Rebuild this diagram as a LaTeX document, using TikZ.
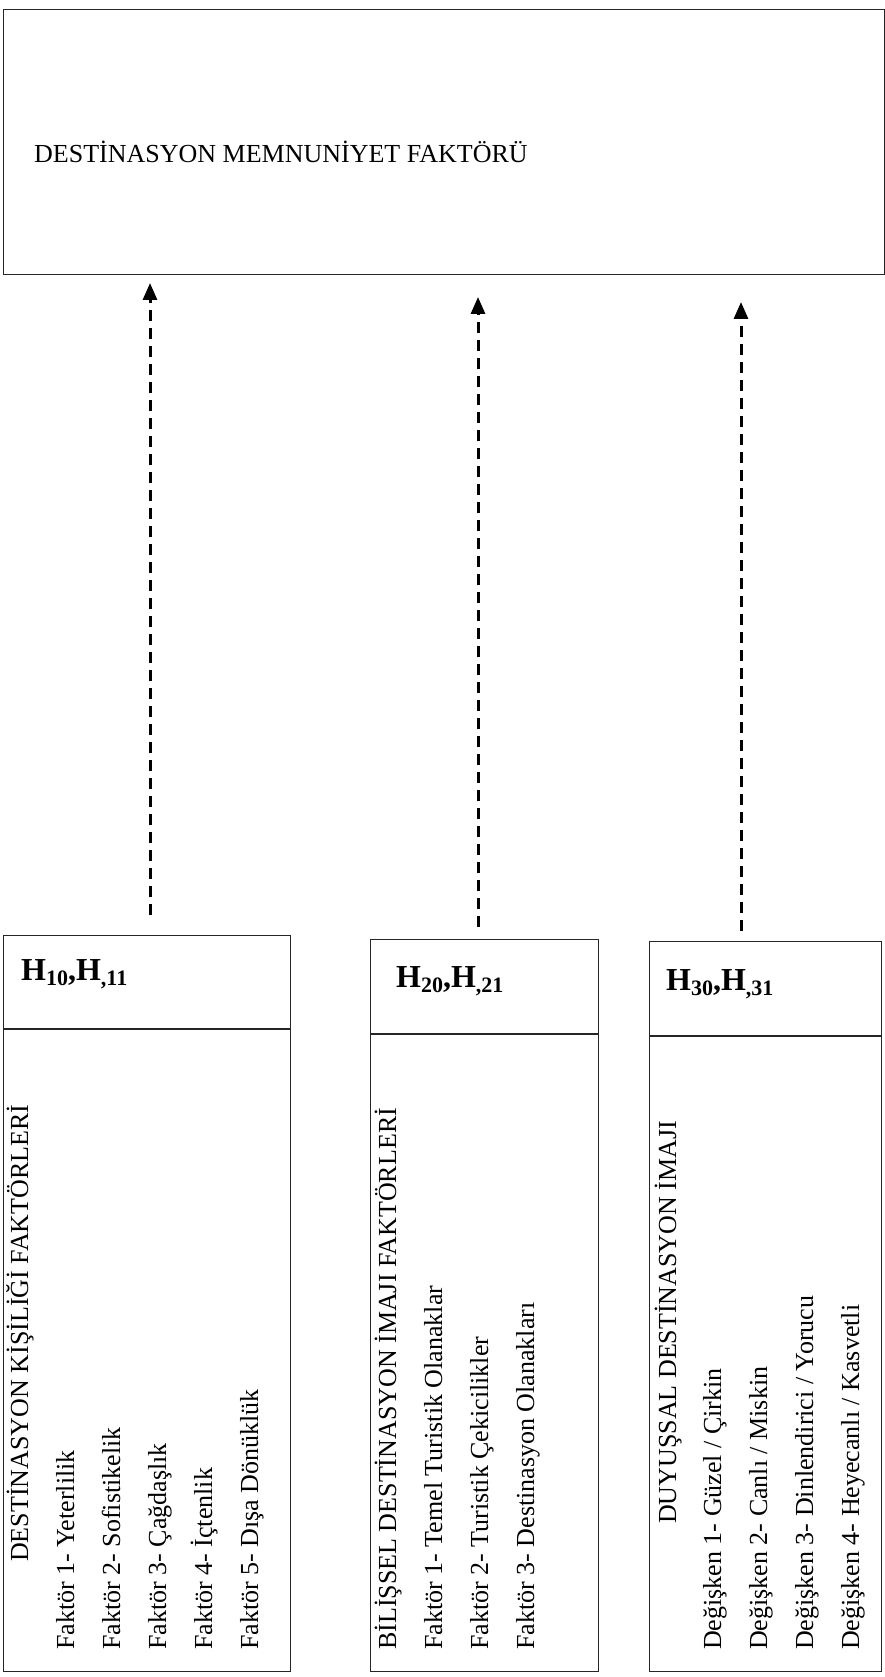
\documentclass[tikz,border=0pt]{standalone}
\usepackage{fontspec}
\setmainfont{Liberation Serif}
\usetikzlibrary{arrows.meta}

% bold hypothesis label with lowered small indices
\newcommand{\hsub}[1]{\raisebox{-5pt}{\fontsize{22}{22}\selectfont\bfseries #1}}

\begin{document}
\begin{tikzpicture}[x=1pt,y=-1pt,
  frame/.style={draw=black!85, line width=1.4pt, inner sep=0pt, anchor=north west},
  divider/.style={draw=black!85, line width=1.4pt},
  headtext/.style={font=\fontsize{26}{30}\selectfont, inner sep=0pt, anchor=base west},
  body/.style={font=\fontsize{26}{30}\selectfont, inner sep=0pt, rotate=90, anchor=base west},
  hyp/.style={font=\fontsize{32}{36}\selectfont\bfseries, inner sep=0pt, anchor=base west},
  link/.style={line width=3pt, dash pattern=on 11pt off 7pt,
               -{Triangle[length=17pt,width=14pt]}}
]
\useasboundingbox (0,0) rectangle (885,1677);

% outcome box
\node[frame, minimum width=881pt, minimum height=265pt] (sat) at (3,9) {};
\node[headtext] (satlabel) at (34,163) {DESTİNASYON MEMNUNİYET FAKTÖRÜ};

% three factor boxes
\node[frame, minimum width=287pt, minimum height=736pt] (b1) at (3,935) {};
\node[frame, minimum width=228pt, minimum height=732pt] (b2) at (370,939) {};
\node[frame, minimum width=232pt, minimum height=730pt] (b3) at (649,941) {};
\draw[divider] (b1.west |- 0,1029) -- (b1.east |- 0,1029);
\draw[divider] (b2.west |- 0,1034) -- (b2.east |- 0,1034);
\draw[divider] (b3.west |- 0,1036) -- (b3.east |- 0,1036);

% hypothesis labels
\node[hyp] (h1) at (21,980) {H\hsub{10},H\hsub{,11}};
\node[hyp] (h2) at (396,987) {H\hsub{20},H\hsub{,21}};
\node[hyp] (h3) at (666,990) {H\hsub{30},H\hsub{,31}};

% box 1 contents
\node[body] (t1) at (28,1562) {DESTİNASYON KİŞİLİĞİ FAKTÖRLERİ};
\node[body] (f11) at (74,1650) {Faktör 1- Yeterlilik};
\node[body] (f12) at (120,1650) {Faktör 2- Sofistikelik};
\node[body] (f13) at (166,1650) {Faktör 3- Çağdaşlık};
\node[body] (f14) at (212,1650) {Faktör 4- İçtenlik};
\node[body] (f15) at (258,1650) {Faktör 5- Dışa Dönüklük};

% box 2 contents
\node[body] (t2) at (396,1650) {BİLİŞSEL DESTİNASYON İMAJI FAKTÖRLERİ};
\node[body] (f21) at (442,1650) {Faktör 1- Temel Turistik Olanaklar};
\node[body] (f22) at (488,1650) {Faktör 2- Turistik Çekicilikler};
\node[body] (f23) at (534,1650) {Faktör 3- Destinasyon Olanakları};

% box 3 contents
\node[body] (t3) at (676,1524) {DUYUŞSAL DESTİNASYON İMAJI};
\node[body] (f31) at (721,1650) {Değişken 1- Güzel / Çirkin};
\node[body] (f32) at (767,1650) {Değişken 2- Canlı / Miskin};
\node[body] (f33) at (813,1650) {Değişken 3- Dinlendirici / Yorucu};
\node[body] (f34) at (859,1650) {Değişken 4- Heyecanlı / Kasvetli};

% dashed links to the outcome box
\coordinate (a1s) at (150,915);
\coordinate (a1e) at (150,283);
\coordinate (a2s) at (478,927);
\coordinate (a2e) at (478,297);
\coordinate (a3s) at (741,931);
\coordinate (a3e) at (741,302);
\draw[link] (a1s) -- (a1e);
\draw[link] (a2s) -- (a2e);
\draw[link] (a3s) -- (a3e);
\end{tikzpicture}
\end{document}
